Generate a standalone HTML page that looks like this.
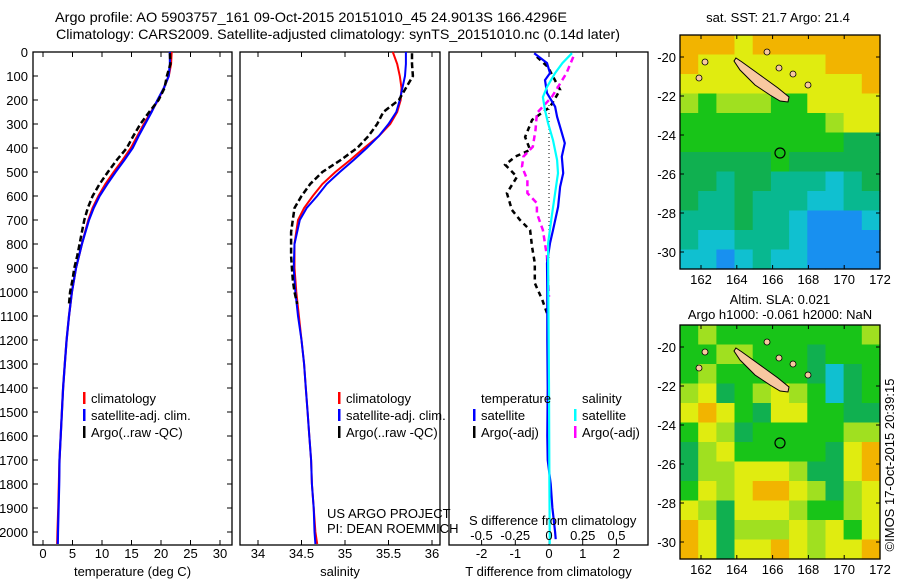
<!DOCTYPE html>
<html><head><meta charset="utf-8"><style>
html,body{margin:0;padding:0;background:#fff}
svg{display:block;font-family:"Liberation Sans",sans-serif;font-size:13px}
</style></head><body>
<svg id="s" width="900" height="580" viewBox="0 0 900 580" xmlns="http://www.w3.org/2000/svg">
<text x="55" y="22" font-size="14" textLength="512" lengthAdjust="spacingAndGlyphs">Argo profile: AO 5903757_161 09-Oct-2015 20151010_45 24.9013S 166.4296E</text>
<text x="56" y="39" font-size="14" textLength="564" lengthAdjust="spacingAndGlyphs">Climatology: CARS2009. Satellite-adjusted climatology: synTS_20151010.nc (0.14d later)</text>
<g id="p1"></g>
<g id="p2"></g>
<g id="p3"></g>
<g id="m1"></g>
<g id="m2"></g>
<text x="778" y="22" text-anchor="middle">sat. SST: 21.7 Argo: 21.4</text>
<text x="780" y="304" text-anchor="middle">Altim. SLA: 0.021</text>
<text x="780" y="319" text-anchor="middle">Argo h1000: -0.061 h2000: NaN</text>
<text transform="translate(894,465) rotate(-90)" text-anchor="middle">©IMOS 17-Oct-2015 20:39:15</text>
<text x="327" y="518">US ARGO PROJECT</text>
<text x="327" y="533">PI: DEAN ROEMMICH</text>
</svg>
<script>
// ---- data ----
const climDepths=[0,50,100,150,200,250,300,350,400,450,500,550,600,650,700,800,900,1000,1100,1200,1300,1400,1500,1600,1700,1800,1900,2000,2050];
const climT=[21.8,21.7,21.3,20.5,19.5,18.3,17.1,16.0,14.9,13.5,12.0,10.6,9.4,8.4,7.7,6.6,5.6,4.9,4.4,4.0,3.7,3.4,3.2,3.0,2.8,2.7,2.6,2.45,2.4];
const satT=[21.5,21.5,21.3,20.5,19.4,18.4,17.3,16.2,15.2,13.8,12.3,10.9,9.6,8.6,7.8,6.6,5.6,4.9,4.4,4.0,3.7,3.4,3.2,3.0,2.8,2.75,2.65,2.55,2.5];
const argoDepths=[5,50,100,150,200,250,300,350,400,450,500,550,600,650,700,750,800,850,900,950,1000,1050];
const argoT=[21.5,21.6,21.0,20.6,19.6,18.0,16.5,15.3,14.2,12.5,11.0,9.6,8.4,7.6,7.0,6.6,6.2,5.8,5.3,5.0,4.6,4.4];
const climS=[35.55,35.6,35.63,35.65,35.64,35.6,35.52,35.39,35.22,35.06,34.89,34.74,34.63,34.53,34.46,34.42,34.42,34.44,34.47,34.5,34.53,34.55,34.57,34.59,34.61,34.62,34.64,34.66,34.68];
const satS=[35.7,35.7,35.69,35.66,35.63,35.59,35.5,35.39,35.25,35.1,34.94,34.79,34.68,34.56,34.48,34.42,34.41,34.43,34.46,34.5,34.53,34.55,34.57,34.59,34.61,34.62,34.64,34.65,34.66];
const argoS=[35.77,35.77,35.78,35.7,35.62,35.44,35.37,35.27,35.14,34.95,34.74,34.6,34.5,34.42,34.4,34.38,34.38,34.38,34.39,34.4,34.42,34.45];
const satTdDepths=[5,46,88,117,171,228,270,312,380,436,505,562,645,742,797,880,1000,1200,1400,1600,1700,1800,1900,2000,2030];
const satTd=[-0.44,-0.06,0.03,-0.12,-0.06,0.18,0.24,0.33,0.47,0.38,0.42,0.33,0.27,0.12,0.03,-0.06,-0.05,-0.05,-0.04,-0.05,-0.04,0.05,0.1,0.18,0.2];
const satSdDepths=[5,46,88,146,188,243,297,367,450,505,588,686,797,1000,1400,1800,2000,2050];
const satSd=[0.17,0.10,0.045,-0.015,-0.045,-0.03,-0.007,0.03,0.06,0.067,0.045,0.02,-0.007,-0.005,0.0,0.003,0.005,0.005];
const argoSdDepths=[20,88,146,188,254,325,395,436,478,533,588,630,672,742,853,950,1020];
const argoSd=[0.18,0.13,0.067,0.02,-0.09,-0.10,-0.12,-0.19,-0.2,-0.16,-0.16,-0.09,-0.09,-0.045,-0.015,-0.007,0.0];
const argoTdDepths=[20,63,158,229,283,354,408,436,470,520,588,658,700,742,813,880,963,1033,1088];
const argoTd=[-0.36,-0.03,0.33,0.03,-0.5,-0.71,-0.56,-1.0,-1.3,-0.95,-1.25,-1.1,-0.86,-0.56,-0.5,-0.42,-0.42,-0.2,-0.06];
const depthTicks=[0,100,200,300,400,500,600,700,800,900,1000,1100,1200,1300,1400,1500,1600,1700,1800,1900,2000];
const tTicks=[0,5,10,15,20,25,30];
const sTicks=[34,34.5,35,35.5,36];
const tdTicks=[-2,-1,0,1,2];
const sdTicks=[-0.5,-0.25,0,0.25,0.5];
const lonTicks=[162,164,166,168,170,172];
const latTicks=[-20,-22,-24,-26,-28,-30];
const sstGrid=["OOOYOOOOOOO","OYYYYYYYOOO","YYYYYYYYYYO","LGLLLGGYYYY","GGGGGGGGLYY","GGGGGGGGGDD","DDDDDGDDDDD","DDTDDTTTCTD","DTTDTTTCCTT","TTTDTTCBBBC","TCCTTTCBBBB","CCBCTCCBBBB"];
const slaGrid=["GLGGGGGGGGL","GGLLGGGDGGG","GLGGGGGDCDG","LYDGLYLGCDG","YOYGDYYGGDD","GYLDGGGGGLL","DLYGGGGGDYO","DLLYYYLDDYO","GYLYOOYLDLY","YLDYYYLGGLY","OYDLLLYLYGY","OYDYYOYLYYO"];
// ---- helpers ----
const NS="http://www.w3.org/2000/svg";
function mk(parent,tag,attrs,text){const e=document.createElementNS(NS,tag);for(const k in attrs)e.setAttribute(k,attrs[k]);if(text!==undefined)e.textContent=text;parent.appendChild(e);return e;}
const TOP=52,BOT=545;
const yD=d=>TOP+d*0.24;
const xT=v=>43+v*5.9;
const xS=v=>258+(v-34)*87;
const xTd=v=>549+v*33.7;
const xSd=v=>549+v*135;
function line(g,xs,ds,fx,color,w,dash,name){
  const pts=xs.map((v,i)=>fx(v).toFixed(1)+','+yD(ds[i]).toFixed(1)).join(' ');
  const p=mk(g,'polyline',{points:pts,fill:'none',stroke:color,'stroke-width':w});
  if(dash)p.setAttribute('stroke-dasharray',dash);
  
  
}
function frame(g,x0,x1,ticks,fx,labels,title){
  mk(g,'rect',{x:x0,y:TOP,width:x1-x0,height:BOT-TOP,fill:'none',stroke:'#000','stroke-width':1.3});
  ticks.forEach((t,i)=>{const x=fx(t);
    mk(g,'line',{x1:x,x2:x,y1:TOP,y2:TOP+5,stroke:'#000'});
    mk(g,'line',{x1:x,x2:x,y1:BOT,y2:BOT-5,stroke:'#000'});
    if(labels){const tl=mk(g,'text',{x:x,y:558,'text-anchor':'middle'},labels[i]);
      
      }
  });
  const tt=mk(g,'text',{x:(x0+x1)/2,y:576,'text-anchor':'middle'},title);
  
  
}
function legend(g,x,y0,items){
  items.forEach((it,i)=>{const y=y0+i*17;
    if(it[0])mk(g,'rect',{x:x,y:y-11,width:2.5,height:12,fill:it[0]});
    const t=mk(g,'text',{x:x+8,y:y},it[1]);
    
    
  });
}
// ---- panel 1 ----
const p1=document.getElementById('p1');
frame(p1,33,232,tTicks,xT,tTicks.map(String),'temperature (deg C)');
depthTicks.forEach(d=>{const y=yD(d);
  mk(p1,'line',{x1:33,x2:38,y1:y,y2:y,stroke:'#000'});
  mk(p1,'line',{x1:232,x2:227,y1:y,y2:y,stroke:'#000'});
  const t=mk(p1,'text',{x:28,y:y+5,'text-anchor':'end'},String(d));
  
  
});
line(p1,climT,climDepths,xT,'#f00',2.2,null,'climatology-temperature-line');
line(p1,satT,climDepths,xT,'#00f',2.2,null,'satellite-temperature-line');
line(p1,argoT,argoDepths,xT,'#000',2.5,'6 3','argo-temperature-line');
legend(p1,83,403,[['#f00','climatology'],['#00f','satellite-adj. clim.'],['#000','Argo(..raw -QC)']]);
// ---- panel 2 ----
const p2=document.getElementById('p2');
frame(p2,240,440,sTicks,xS,['34','34.5','35','35.5','36'],'salinity');
line(p2,climS,climDepths,xS,'#f00',2,null,'climatology-salinity-line');
line(p2,satS,climDepths,xS,'#00f',2,null,'satellite-salinity-line');
line(p2,argoS,argoDepths,xS,'#000',2.5,'6 3','argo-salinity-line');
legend(p2,338,403,[['#f00','climatology'],['#00f','satellite-adj. clim.'],['#000','Argo(..raw -QC)']]);
// ---- panel 3 ----
const p3=document.getElementById('p3');
frame(p3,449,648,tdTicks,xTd,tdTicks.map(String),'T difference from climatology');
mk(p3,'line',{x1:549,x2:549,y1:105,y2:260,stroke:'#000','stroke-dasharray':'1 3'});
line(p3,argoTd,argoTdDepths,xTd,'#000',2.5,'5 4','argo-temperature-diff-line');
line(p3,argoSd,argoSdDepths,xSd,'#f0f',2.5,'6 4','argo-salinity-diff-line');
line(p3,satTd,satTdDepths,xTd,'#00f',2.2,null,'satellite-temperature-diff-line');
line(p3,satSd,satSdDepths,xSd,'#0ff',2.2,null,'satellite-salinity-diff-line');
legend(p3,473,403,[[null,'temperature'],['#00f','satellite'],['#000','Argo(-adj)']]);
legend(p3,574,403,[[null,'salinity'],['#0ff','satellite'],['#f0f','Argo(-adj)']]);
const sdt=mk(p3,'text',{x:469,y:525},'S difference from climatology');


sdTicks.forEach(v=>{const t=mk(p3,'text',{x:xSd(v),y:540,'text-anchor':'middle'},String(v));
  
  });
// ---- maps ----
const COL={O:'#f2b400',Y:'#e0ec10',L:'#a0e020',G:'#18c418',D:'#10b050',T:'#08b890',C:'#10c0d0',B:'#1890f0'};
const mxL=lon=>701+(lon-162)*17.9;
const myL=lat=>57+(-20-lat)*19.5;
function map(id,grid,oy){
  const g=document.getElementById(id);
  const x0=680,x1=880,y0=35+oy,y1=269+oy;
  const cw=(x1-x0)/11,ch=(y1-y0)/12;
  grid.forEach((row,r)=>{[...row].forEach((c,k)=>{
    mk(g,'rect',{x:(x0+k*cw).toFixed(1),y:(y0+r*ch).toFixed(1),width:(cw+0.6).toFixed(1),height:(ch+0.6).toFixed(1),fill:COL[c]});
  });});
  const isl=mk(g,'polygon',{points:'736,58 742,62 760,75 778,88 789,97 788,102 780,101 770,95 755,85 740,70 734,61'.split(' ').map(p=>{const a=p.split(',');return a[0]+','+(+a[1]+oy);}).join(' '),fill:'#f8c8a0',stroke:'#000','stroke-width':1});
  
  
  [[767,52],[779,68],[793,74],[808,85],[699,78],[705,62]].forEach(p=>mk(g,'circle',{cx:p[0],cy:p[1]+oy,r:3,fill:'#f8c8a0',stroke:'#000','stroke-width':0.8}));
  const c=mk(g,'circle',{cx:780,cy:153+oy,r:5,fill:'none',stroke:'#000','stroke-width':1.2});
  
  
  mk(g,'rect',{x:x0,y:y0,width:x1-x0,height:y1-y0,fill:'none',stroke:'#000','stroke-width':1.3});
  lonTicks.forEach(l=>{const x=mxL(l);
    mk(g,'line',{x1:x,x2:x,y1:y0,y2:y0+4,stroke:'#000'});
    mk(g,'line',{x1:x,x2:x,y1:y1,y2:y1-4,stroke:'#000'});
    const t=mk(g,'text',{x:x,y:y1+15,'text-anchor':'middle'},String(l));
    
    });
  latTicks.forEach(l=>{const y=myL(l)+oy;
    mk(g,'line',{x1:x0,x2:x0+4,y1:y,y2:y,stroke:'#000'});
    mk(g,'line',{x1:x1,x2:x1-4,y1:y,y2:y,stroke:'#000'});
    const t=mk(g,'text',{x:676,y:y+5,'text-anchor':'end'},String(l));
    
    });
}
map('m1',sstGrid,0);
map('m2',slaGrid,290);
</script>
</body></html>
